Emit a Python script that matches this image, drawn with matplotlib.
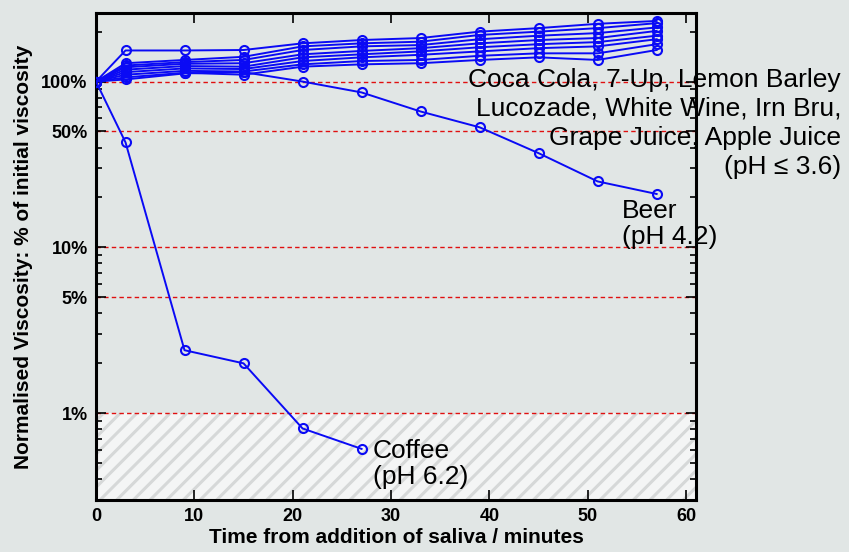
import numpy as np
import matplotlib
matplotlib.use('Agg')
import matplotlib.pyplot as plt
from matplotlib.ticker import FixedLocator, LogLocator, NullFormatter

# time points (minutes)
t_acid = [0, 3, 9, 15, 21, 27, 33, 39, 45, 51, 57]
t_coffee = [0, 3, 9, 15, 21, 27]

# acidic drinks (pH <= 3.6), % of initial viscosity
acid_1 = [100, 154, 154, 155, 170, 178, 183, 200, 210, 223, 232]
acid_2 = [100, 129, 135, 141, 163, 170, 174, 191, 200, 210, 225]
acid_3 = [100, 125, 131, 135, 155, 163, 166, 180, 189, 196, 212]
acid_4 = [100, 122, 128, 129, 146, 153, 159, 170, 178, 183, 202]
acid_5 = [100, 118, 124, 123, 140, 146, 152, 161, 168, 173, 189]
acid_6 = [100, 114, 120, 119, 133, 140, 145, 152, 159, 163, 180]
acid_7 = [100, 110, 116, 115, 127, 133, 135, 143, 148, 148, 168]
acid_8 = [100, 106, 113, 110, 123, 127, 129, 135, 140, 135, 155]
beer = [100, 103, 112, 114, 100, 86, 66, 53, 37, 25, 21]
coffee = [100, 43, 2.4, 2.0, 0.81, 0.61]

ref_levels = [1, 5, 10, 50, 100]
ytick_labels = ['1%', '5%', '10%', '50%', '100%']

plt.rcParams['font.family'] = ['Liberation Sans', 'DejaVu Sans']
plt.rcParams['hatch.linewidth'] = 2.2
plt.rcParams['hatch.color'] = '#d6d8d8'

bg = '#e1e6e5'
fig = plt.figure(figsize=(8.49, 5.52), dpi=100, facecolor=bg)
ax = fig.add_axes([96/849, 1-500/552, 600/849, (500-13.3)/552])
ax.set_facecolor(bg)

ax.set_yscale('log')
ax.set_xlim(0, 61)
ax.set_ylim(0.3, 258)

# hatched "below 1%" region
ax.axhspan(0.3, 1, facecolor='#f4f5f5', hatch='//', edgecolor='#d6d8d8', linewidth=0, zorder=0)

for lv in ref_levels:
    ax.axhline(lv, color='#e01010', ls=(0, (3.2, 2.3)), lw=1.0, zorder=1)

line_kw = dict(color='#0a0af5', lw=1.4, marker='o', ms=6.5, mfc='none', mew=1.5, zorder=3)
for s in [acid_1, acid_2, acid_3, acid_4, acid_5, acid_6, acid_7, acid_8, beer]:
    ax.plot(t_acid, s, **line_kw)
ax.plot(t_coffee, coffee, **line_kw)

ax.yaxis.set_major_locator(FixedLocator(ref_levels))
ax.set_yticklabels(ytick_labels)
ax.yaxis.set_minor_locator(LogLocator(base=10, subs=np.arange(2, 10)))
ax.yaxis.set_minor_formatter(NullFormatter())
ax.set_xticks(range(0, 61, 10))

ax.tick_params(which='both', direction='in', top=True, right=True, width=1.2)
ax.tick_params(which='major', length=7, labelsize=13, pad=6)
ax.tick_params(which='minor', length=4)
for lab in ax.get_xticklabels() + ax.get_yticklabels():
    lab.set_fontweight('bold')
for sp in ax.spines.values():
    sp.set_linewidth(2.2)

ax.set_xlabel('Time from addition of saliva / minutes', fontsize=15, fontweight='bold', labelpad=2)
ax.set_ylabel('Normalised Viscosity: % of initial viscosity', fontsize=15, fontweight='bold', labelpad=6)

fig.text(841/849, 1-68/552,
         'Coca Cola, 7-Up, Lemon Barley\nLucozade, White Wine, Irn Bru,\nGrape Juice, Apple Juice\n(pH \u2264 3.6)',
         ha='right', va='top', fontsize=19, linespacing=1.26, zorder=5)
fig.text(622/849, 1-199/552, 'Beer\n(pH 4.2)', ha='left', va='top', fontsize=19, linespacing=1.12, zorder=5)
fig.text(373/849, 1-439/552, 'Coffee\n(pH 6.2)', ha='left', va='top', fontsize=19, linespacing=1.12, zorder=5)

fig.savefig('out.png', dpi=100, facecolor=bg)
